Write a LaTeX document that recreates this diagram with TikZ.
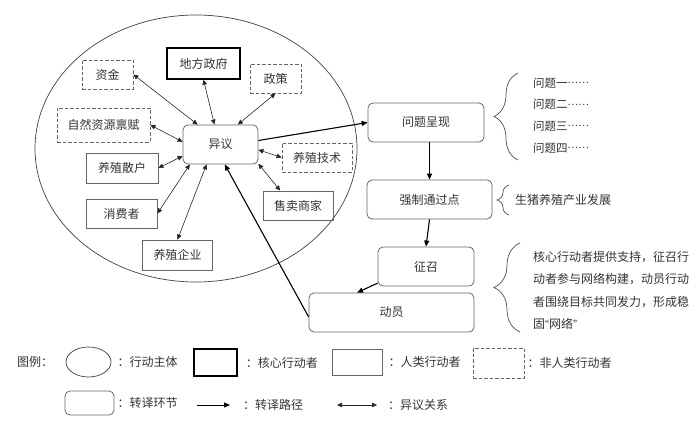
\documentclass[tikz,border=0pt]{standalone}
\usepackage{fontspec}
\setmainfont{Noto Sans CJK SC}
\newfontfamily\latinq{Liberation Sans}
\usepackage{tikz}
\usetikzlibrary{positioning,shapes.geometric,arrows.meta,decorations.pathreplacing}

\begin{document}
\begin{tikzpicture}[x=1pt, y=-1pt,
    font=\fontsize{12}{14}\selectfont, text=black!80,
    actor/.style={draw=black!60, line width=0.8pt, inner sep=0pt},
    human/.style={actor},
    nonhuman/.style={actor, dash pattern=on 3.5pt off 2pt},
    core/.style={actor, draw=black, line width=1.4pt},
    stage/.style={actor, rounded corners=5pt},
    subject/.style={ellipse, draw=black!75, line width=0.7pt, inner sep=0pt},
    note/.style={inner sep=0pt, anchor=west},
    dispute/.style={{Triangle[length=5pt,width=4.5pt]}-{Triangle[length=5pt,width=4.5pt]}, line width=0.6pt, draw=black!85},
    route/.style={-{Triangle[length=6pt,width=5pt]}, line width=1.1pt},
    bracket/.style={decorate, decoration={brace, amplitude=#1}, draw=black!70, line width=0.7pt}]
    \useasboundingbox (0,0) rectangle (700,427);
    % Define nodes
    \node[subject, minimum width=322pt, minimum height=267pt] (zhuti) at (196,148.5) {};
    \node[core, minimum width=73pt, minimum height=31pt] (zhengfu) at (203.5,63.5) {地方政府};
    \node[nonhuman, minimum width=51pt, minimum height=29pt] (zijin) at (107.5,74.5) {资金};
    \node[nonhuman, minimum width=51pt, minimum height=29pt] (zhengce) at (275.5,78.5) {政策};
    \node[nonhuman, minimum width=93pt, minimum height=34pt] (ziyuan) at (103.5,125) {自然资源禀赋};
    \node[stage, minimum width=75pt, minimum height=39pt] (yiyi) at (220.5,144.5) {异议};
    \node[nonhuman, minimum width=70pt, minimum height=29pt] (jishu) at (317,157.5) {养殖技术};
    \node[human, minimum width=72pt, minimum height=30pt] (sanhu) at (122,168) {养殖散户};
    \node[human, minimum width=71pt, minimum height=29pt] (xiaofei) at (121.5,213.5) {消费者};
    \node[human, minimum width=70pt, minimum height=29pt] (shangjia) at (298,205.5) {售卖商家};
    \node[human, minimum width=70pt, minimum height=30pt] (qiye) at (177.5,255) {养殖企业};
    \node[stage, minimum width=116pt, minimum height=39pt] (wenti) at (426,122.5) {问题呈现};
    \node[stage, minimum width=125pt, minimum height=39pt] (obp) at (429.5,199.5) {强制通过点};
    \node[stage, minimum width=96pt, minimum height=39pt] (zhengzhao) at (426,266.5) {征召};
    \node[stage, minimum width=165pt, minimum height=39pt] (dongyuan) at (391.5,312.5) {动员};
    \foreach \t [count=\i from 0] in {一,二,三,四}
        \node[note, font=\fontsize{11.5}{13}\selectfont] (wt\i) at (533,83+21.7*\i)
            {问题\t\raisebox{3.8pt}{\fontsize{10}{10}\selectfont ……}};
    \node[note] (fazhan) at (515,200) {生猪养殖产业发展};
    \node[note, align=left, font=\fontsize{12}{22.5}\selectfont] (zhichi) at (533,290.5)
        {核心行动者提供支持，征召行\\动者参与网络构建，动员行动\\者围绕目标共同发力，形成稳\\固{\latinq“}网络{\latinq”}};
    % Braces
    \draw[bracket=24pt] (518,160) -- (518,73);
    \draw[bracket=12pt] (509,215) -- (509,185);
    \draw[bracket=26pt] (520,332) -- (520,243);
    % Connect nodes
    \foreach \a/\m in {zijin.east/139, zhengfu.south/107, zhengce.south/49, ziyuan.east/176,
        sanhu.east/197, xiaofei.east/213, qiye.north/235, jishu.west/352, shangjia.140/333}
        \draw[dispute] (\a) -- (yiyi.\m);
    \draw[route] (yiyi.6) -- (wenti.west);
    \draw[route] (obp.north |- wenti.south) -- (obp.north);
    \draw[route] (obp.south) -- (zhengzhao.north);
    \draw[route] (zhengzhao.199) -- (dongyuan.150);
    \draw[route] (dongyuan.183) -- (yiyi.282);
    % Legend
    \node[note] (tuli) at (17,362) {图例：};
    \node[subject, minimum width=45pt, minimum height=30pt] (lgzhuti) at (88.5,362) {};
    \node[note, right=6pt of lgzhuti] (lgzhutit) {：行动主体};
    \node[core, minimum width=43pt, minimum height=27pt] (lghexin) at (215.5,362.5) {};
    \node[note, right=8pt of lghexin] (lghexint) {：核心行动者};
    \node[human, minimum width=50pt, minimum height=26pt] (lgren) at (357,362) {};
    \node[note, right=6pt of lgren] (lgrent) {：人类行动者};
    \node[nonhuman, minimum width=51pt, minimum height=30pt] (lgfei) at (498.5,363) {};
    \node[note, right=3pt of lgfei] (lgfeit) {：非人类行动者};
    \node[stage, minimum width=49pt, minimum height=24pt] (lghuanjie) at (89.5,403) {};
    \node[note, right=3pt of lghuanjie] (lghuanjiet) {：转译环节};
    \coordinate (lgl1) at (197,405);
    \coordinate (lgl2) at (230,405);
    \draw[route, line width=0.7pt] (lgl1) -- (lgl2);
    \node[note, right=13pt of lgl2] (lglujing) {：转译路径};
    \coordinate (lgd1) at (337,405);
    \coordinate (lgd2) at (377,405);
    \draw[dispute] (lgd1) -- (lgd2);
    \node[note, right=11pt of lgd2] (lgguanxi) {：异议关系};
\end{tikzpicture}
\end{document}
